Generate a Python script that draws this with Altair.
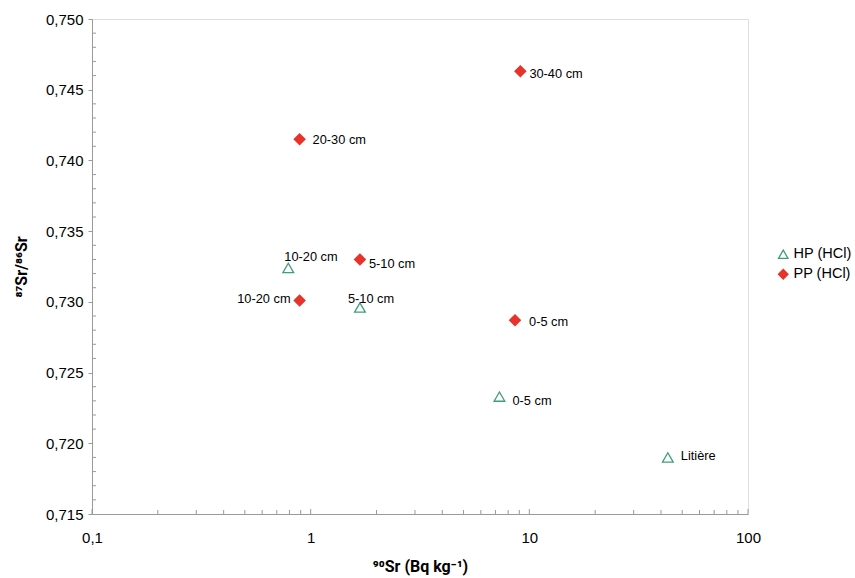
import altair as alt
import pandas as pd

# Sample series: 90Sr activity (Bq/kg) and 87Sr/86Sr ratio
hp_depth = ["Litière", "0-5 cm", "5-10 cm", "10-20 cm"]
hp_sr90 = [43.0, 7.3, 1.68, 0.79]
hp_ratio = [0.7190, 0.7233, 0.7296, 0.7324]

pp_depth = ["0-5 cm", "5-10 cm", "10-20 cm", "20-30 cm", "30-40 cm"]
pp_sr90 = [8.6, 1.68, 0.89, 0.89, 9.1]
pp_ratio = [0.7287, 0.7330, 0.7301, 0.7415, 0.7463]

series_names = ["HP (HCl)", "PP (HCl)"]
x_ticks = [0.1, 1, 10, 100]
y_ticks = [0.715, 0.720, 0.725, 0.730, 0.735, 0.740, 0.745, 0.750]

rows = []
for d, x, y in zip(hp_depth, hp_sr90, hp_ratio):
    rows.append({"serie": series_names[0], "label": d, "sr90": x, "ratio": y})
for d, x, y in zip(pp_depth, pp_sr90, pp_ratio):
    rows.append({"serie": series_names[1], "label": d, "sr90": x, "ratio": y})
df = pd.DataFrame(rows)

# label placement (pixel offsets and alignment) per series/label
label_style = {
    ("HP (HCl)", "Litière"): (13, -1, "left"),
    ("HP (HCl)", "0-5 cm"): (13, 4, "left"),
    ("HP (HCl)", "5-10 cm"): (-12, -9, "left"),
    ("HP (HCl)", "10-20 cm"): (-4, -11, "left"),
    ("PP (HCl)", "0-5 cm"): (14, 2, "left"),
    ("PP (HCl)", "5-10 cm"): (9, 5, "left"),
    ("PP (HCl)", "10-20 cm"): (-9, -1, "right"),
    ("PP (HCl)", "20-30 cm"): (13, 1, "left"),
    ("PP (HCl)", "30-40 cm"): (9, 3, "left"),
}

W, H = 656, 495
FONT = "Liberation Sans"
TITLE_FONT = "Roboto"
AXIS_COLOR = "#9a9a9a"

x_scale = alt.Scale(type="log", domain=[0.1, 100], nice=False)
y_scale = alt.Scale(domain=[0.715, 0.750], nice=False, zero=False)

green = "#3d9f78"
red = "#e8322a"

points = alt.Chart(df).mark_point(size=115, strokeWidth=1.3, opacity=1).encode(
    x=alt.X(
        "sr90:Q", scale=x_scale,
        axis=alt.Axis(
            values=x_ticks, title="⁹⁰Sr (Bq kg⁻¹)",
            labelExpr="replace(format(datum.value, ''), '.', ',')",
            labelFont=FONT, labelFontSize=15, labelColor="#000", labelPadding=16,
            labelFlush=False, labelOverlap=False,
            titleFont=TITLE_FONT, titleFontSize=16, titleFontWeight="bold", titleColor="#000",
            titlePadding=13, grid=False, ticks=False, domainColor=AXIS_COLOR,
        ),
    ),
    y=alt.Y(
        "ratio:Q", scale=y_scale,
        axis=alt.Axis(
            values=y_ticks, title="⁸⁷Sr/⁸⁶Sr",
            labelExpr="replace(format(datum.value, '.3f'), '.', ',')",
            labelFont=FONT, labelFontSize=15, labelColor="#000", labelPadding=5,
            labelFlush=False, labelOverlap=False,
            titleFont=TITLE_FONT, titleFontSize=16, titleFontWeight="bold", titleColor="#000",
            titlePadding=16, grid=False, tickSize=4, tickColor=AXIS_COLOR,
            domainColor=AXIS_COLOR,
        ),
    ),
    shape=alt.Shape(
        "serie:N", title=None,
        scale=alt.Scale(domain=series_names, range=["triangle-up", "diamond"]),
    ),
    stroke=alt.Stroke(
        "serie:N", title=None,
        scale=alt.Scale(domain=series_names, range=[green, red]),
    ),
    fill=alt.Fill(
        "serie:N", title=None,
        scale=alt.Scale(domain=series_names, range=["transparent", red]),
        legend=alt.Legend(
            orient="none", legendX=684, legendY=228, labelFont=FONT,
            labelFontSize=14.5, labelColor="#000", symbolSize=90,
            symbolStrokeWidth=1.3, rowPadding=5, labelOffset=3,
        ),
    ),
)

layers = [points]
for (serie, lab), (dx, dy, align) in label_style.items():
    layers.append(
        alt.Chart(df).transform_filter(
            (alt.datum.serie == serie) & (alt.datum.label == lab)
        ).mark_text(
            dx=dx, dy=dy, align=align, baseline="middle",
            font=FONT, fontSize=12.8, color="#000",
        ).encode(
            x=alt.X("sr90:Q", scale=x_scale),
            y=alt.Y("ratio:Q", scale=y_scale),
            text="label:N",
        )
    )

# minor ticks pointing into the plot
minor_x = [m * 10 ** e for e in (-1, 0, 1) for m in range(2, 10)]
minor_y = [round(0.715 + 0.001 * i, 3) for i in range(36) if i % 5 != 0]

xt = alt.Chart(pd.DataFrame({"v": minor_x})).mark_rule(
    color=AXIS_COLOR, strokeWidth=1
).encode(x=alt.X("v:Q", scale=x_scale), y=alt.value(H), y2=alt.value(H - 4))
xt_major = alt.Chart(pd.DataFrame({"v": x_ticks})).mark_rule(
    color=AXIS_COLOR, strokeWidth=1
).encode(x=alt.X("v:Q", scale=x_scale), y=alt.value(H), y2=alt.value(H - 5))
yt = alt.Chart(pd.DataFrame({"v": minor_y})).mark_rule(
    color=AXIS_COLOR, strokeWidth=1
).encode(y=alt.Y("v:Q", scale=y_scale), x=alt.value(0), x2=alt.value(4))

chart = alt.layer(xt, xt_major, yt, *layers).properties(
    width=W, height=H,
    autosize=alt.AutoSizeParams(type="none"),
    padding={"left": 92, "top": 19, "right": 107, "bottom": 64},
).configure_view(
    stroke=AXIS_COLOR, strokeWidth=1
).configure(background="white")

chart.save("out.html", embed_options={"renderer": "svg", "actions": False})
